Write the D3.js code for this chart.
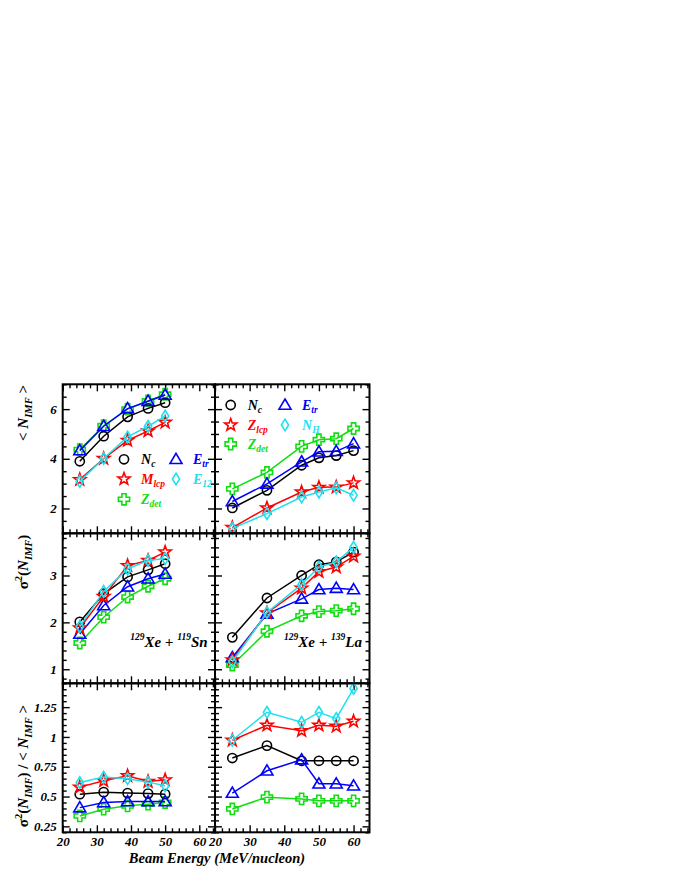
<!DOCTYPE html>
<html><head><meta charset="utf-8">
<script src="https://cdn.jsdelivr.net/npm/d3@7"></script>
<style>body{margin:0;background:#fff}svg{display:block}</style>
</head><body><svg id="c" width="680" height="880"></svg>
<script>
// ---------------- data ----------------
const energySn = [25, 32, 39, 45, 50];
const energyLa = [25, 35, 45, 50, 55, 60];

const meanSnNc   = [3.90, 4.91, 5.69, 6.03, 6.26];
const meanSnEtr  = [4.33, 5.31, 6.02, 6.32, 6.57];
const meanSnZdet = [4.37, 5.33, 6.00, 6.33, 6.60];
const meanSnMlcp = [3.16, 4.01, 4.74, 5.12, 5.47];
const meanSnE12  = [3.09, 4.01, 4.88, 5.31, 5.72];

const meanLaNc   = [2.02, 2.73, 3.74, 4.04, 4.13, 4.33];
const meanLaEtr  = [2.28, 2.99, 3.88, 4.28, 4.30, 4.61];
const meanLaZdet = [2.79, 3.45, 4.50, 4.77, 4.81, 5.22];
const meanLaZlcp = [1.23, 2.02, 2.66, 2.85, 2.86, 3.03];
const meanLaNH   = [1.20, 1.79, 2.46, 2.66, 2.83, 2.53];

const varSnNc   = [2.01, 2.61, 2.97, 3.12, 3.25];
const varSnEtr  = [1.75, 2.36, 2.76, 2.93, 3.03];
const varSnZdet = [1.56, 2.11, 2.54, 2.77, 2.93];
const varSnMlcp = [1.88, 2.55, 3.21, 3.32, 3.50];
const varSnE12  = [1.91, 2.66, 3.14, 3.32, 3.36];

const varLaNc   = [1.68, 2.52, 3.00, 3.23, 3.29, 3.50];
const varLaEtr  = [1.25, 2.18, 2.50, 2.70, 2.73, 2.70];
const varLaZdet = [1.09, 1.81, 2.14, 2.23, 2.25, 2.29];
const varLaZlcp = [1.20, 2.20, 2.73, 3.08, 3.18, 3.41];
const varLaNH   = [1.16, 2.21, 2.81, 3.18, 3.29, 3.60];

const ratioSnNc   = [0.520, 0.537, 0.529, 0.525, 0.520];
const ratioSnEtr  = [0.407, 0.450, 0.458, 0.458, 0.458];
const ratioSnZdet = [0.337, 0.394, 0.422, 0.436, 0.450];
const ratioSnMlcp = [0.579, 0.632, 0.674, 0.626, 0.640];
const ratioSnE12  = [0.618, 0.663, 0.649, 0.621, 0.590];

const ratioLaNc   = [0.823, 0.927, 0.800, 0.800, 0.800, 0.800];
const ratioLaEtr  = [0.529, 0.716, 0.809, 0.607, 0.607, 0.590];
const ratioLaZdet = [0.396, 0.495, 0.480, 0.464, 0.464, 0.464];
const ratioLaZlcp = [0.972, 1.098, 1.053, 1.098, 1.089, 1.131];
const ratioLaNH   = [0.972, 1.207, 1.123, 1.207, 1.154, 1.407];

const xTickLabels = [20, 30, 40, 50, 60];
const yTicksMean  = [2, 4, 6];
const yTicksVar   = [1, 2, 3];
const yTicksRatio = [0.25, 0.5, 0.75, 1, 1.25];

// ---------------- styles ----------------
const COL = {Nc:"#000000", Etr:"#0000ff", Zdet:"#11dd11", Lcp:"#ff0000", Fourth:"#1fe0f0"};
const MARK = {Nc:"circle", Etr:"triangle", Zdet:"cross", Lcp:"star", Fourth:"diamond"};
const FONT = "'Liberation Serif','Times New Roman',Times,serif";

function markerPath(t){
  if(t==="circle"){const p=d3.path();p.arc(0,0,4.6,0,2*Math.PI);p.closePath();return p.toString();}
  if(t==="triangle") return "M0,-6L6,4.2L-6,4.2Z";
  if(t==="diamond") return "M0,-5.8L3.6,0L0,5.8L-3.6,0Z";
  if(t==="cross"){const a=2.1,b=5.6;return `M${-a},${-b}H${a}V${-a}H${b}V${a}H${a}V${b}H${-a}V${a}H${-b}V${-a}H${-a}Z`;}
  if(t==="star"){const pts=[];for(let i=0;i<10;i++){const r=i%2?2.6:6.4;const ang=-Math.PI/2+i*Math.PI/5;pts.push([r*Math.cos(ang),r*Math.sin(ang)]);}return "M"+pts.map(p=>p[0].toFixed(2)+","+p[1].toFixed(2)).join("L")+"Z";}
}

const svg = d3.select("#c");
svg.append("rect").attr("width",680).attr("height",880).attr("fill","#fff");

const colX = [[62.7,215],[215,369.5]];
const rowY = [[384.3,533.3],[533.3,683.3],[683.3,832.3]];
const yDomains = [[1,7],[0.7,3.9],[0.2,1.45]];
const yMajors = [yTicksMean, yTicksVar, yTicksRatio];
const yMinorStep = [0.5, 0.2, 0.05];
const xDomain = [20, 64.6];

const panelSeries = [
  [
    {e:energySn, s:[["Zdet",meanSnZdet],["Nc",meanSnNc],["Etr",meanSnEtr],["Lcp",meanSnMlcp],["Fourth",meanSnE12]]},
    {e:energyLa, s:[["Zdet",meanLaZdet],["Nc",meanLaNc],["Etr",meanLaEtr],["Lcp",meanLaZlcp],["Fourth",meanLaNH]]}
  ],
  [
    {e:energySn, s:[["Zdet",varSnZdet],["Nc",varSnNc],["Etr",varSnEtr],["Lcp",varSnMlcp],["Fourth",varSnE12]]},
    {e:energyLa, s:[["Zdet",varLaZdet],["Nc",varLaNc],["Etr",varLaEtr],["Lcp",varLaZlcp],["Fourth",varLaNH]]}
  ],
  [
    {e:energySn, s:[["Zdet",ratioSnZdet],["Nc",ratioSnNc],["Etr",ratioSnEtr],["Lcp",ratioSnMlcp],["Fourth",ratioSnE12]]},
    {e:energyLa, s:[["Zdet",ratioLaZdet],["Nc",ratioLaNc],["Etr",ratioLaEtr],["Lcp",ratioLaZlcp],["Fourth",ratioLaNH]]}
  ]
];

function rangeStep(a,b,step){const out=[];const n=Math.round((b-a)/step);for(let i=0;i<=n;i++){out.push(+(a+i*step).toFixed(6));}return out;}
function isMajor(v,majors,step){return majors.some(m=>Math.abs(m-v)<step/10);}

const panels = [];
for(let r=0;r<3;r++){
  for(let c=0;c<2;c++){
    const [x0,x1]=colX[c], [y0,y1]=rowY[r];
    const x = d3.scaleLinear().domain(xDomain).range([x0,x1]);
    const y = d3.scaleLinear().domain(yDomains[r]).range([y1,y0]);
    panels.push({r,c,x,y,x0,x1,y0,y1});
    const g = svg.append("g");

    const xMinor = rangeStep(22,64,2).filter(v=>!isMajor(v,xTickLabels,2));
    const dm = yDomains[r];
    const yMinor = rangeStep(Math.ceil(dm[0]/yMinorStep[r]-1e-9)*yMinorStep[r], dm[1], yMinorStep[r])
      .filter(v=>v>=dm[0]&&v<=dm[1]&&!isMajor(v,yMajors[r],yMinorStep[r]));

    function addAxis(axis, transform){
      const a = g.append("g").attr("transform",transform).call(axis);
      a.select(".domain").remove();
      a.selectAll(".tick line").attr("stroke","#000").attr("stroke-width",1.4);
      a.selectAll("text").attr("font-family",FONT).attr("font-weight","bold").attr("font-style","italic")
        .attr("font-size",13).attr("fill","#000");
      return a;
    }
    addAxis(d3.axisBottom(x).tickValues(xTickLabels).tickSize(-7).tickPadding(4)
      .tickFormat(r===2? d=>d : ()=>""), `translate(0,${y1})`);
    addAxis(d3.axisBottom(x).tickValues(xMinor).tickSize(-4).tickFormat(()=>""), `translate(0,${y1})`);
    addAxis(d3.axisTop(x).tickValues(xTickLabels).tickSize(-7).tickFormat(()=>""), `translate(0,${y0})`);
    addAxis(d3.axisTop(x).tickValues(xMinor).tickSize(-4).tickFormat(()=>""), `translate(0,${y0})`);
    addAxis(d3.axisLeft(y).tickValues(yMajors[r]).tickSize(-7).tickPadding(6)
      .tickFormat(c===0? d=>String(d) : ()=>""), `translate(${x0},0)`);
    addAxis(d3.axisLeft(y).tickValues(yMinor).tickSize(-4).tickFormat(()=>""), `translate(${x0},0)`);
    addAxis(d3.axisRight(y).tickValues(yMajors[r]).tickSize(-7).tickFormat(()=>""), `translate(${x1},0)`);
    addAxis(d3.axisRight(y).tickValues(yMinor).tickSize(-4).tickFormat(()=>""), `translate(${x1},0)`);

    const ps = panelSeries[r][c];
    const line = d3.line().x((d,i)=>x(ps.e[i])).y(d=>y(d));
    ps.s.forEach(([key,vals])=>{
      g.append("path").attr("d",line(vals)).attr("fill","none").attr("stroke",COL[key]).attr("stroke-width",1.5);
      g.selectAll(null).data(vals).enter().append("path")
        .attr("d",markerPath(MARK[key]))
        .attr("transform",(d,i)=>`translate(${x(ps.e[i])},${y(d)})`)
        .attr("fill","none").attr("stroke",COL[key]).attr("stroke-width",1.6);
    });
    g.append("rect").attr("x",x0).attr("y",y0).attr("width",x1-x0).attr("height",y1-y0)
      .attr("fill","none").attr("stroke","#000").attr("stroke-width",2);
  }
}

// ---------------- legends ----------------
function legendItem(px,py,key,main,sub){
  svg.append("path").attr("d",markerPath(MARK[key])).attr("transform",`translate(${px},${py})`)
    .attr("fill","none").attr("stroke",COL[key]).attr("stroke-width",1.6);
  const t = svg.append("text").attr("x",px+17).attr("y",py+5).attr("font-family",FONT)
    .attr("font-style","italic").attr("font-weight","bold").attr("font-size",14).attr("fill",COL[key]);
  t.append("tspan").text(main);
  t.append("tspan").attr("font-size",9.5).attr("dy",3).text(sub);
}
{
  const p = panels[0];
  const lx = p.x0+61.3, rx = p.x0+113.3, ly = p.y0+75;
  legendItem(lx, ly, "Nc", "N", "c");
  legendItem(rx, ly, "Etr", "E", "tr");
  legendItem(lx, ly+19.7, "Lcp", "M", "lcp");
  legendItem(rx, ly+19.7, "Fourth", "E", "12");
  legendItem(lx, ly+40, "Zdet", "Z", "det");
}
{
  const p = panels[1];
  const lx = p.x0+15.7, rx = p.x0+70, ly = p.y0+20.7;
  legendItem(lx, ly, "Nc", "N", "c");
  legendItem(rx, ly, "Etr", "E", "tr");
  legendItem(lx, ly+20, "Lcp", "Z", "lcp");
  legendItem(rx, ly+20, "Fourth", "N", "H");
  legendItem(lx, ly+39, "Zdet", "Z", "det");
}

// ---------------- reaction labels ----------------
function reaction(px,py,a1,e1,a2,e2){
  const t = svg.append("text").attr("x",px).attr("y",py).attr("font-family",FONT)
    .attr("font-weight","bold").attr("font-style","italic").attr("font-size",15).attr("fill","#000");
  t.append("tspan").attr("font-size",9.5).attr("dy",-7).text(a1);
  t.append("tspan").attr("dy",7).text(e1+" + ");
  t.append("tspan").attr("font-size",9.5).attr("dy",-7).text(a2);
  t.append("tspan").attr("dy",7).text(e2);
}
reaction(panels[2].x0+67.5, 647, "129", "Xe", "119", "Sn");
reaction(panels[3].x0+69, 647, "129", "Xe", "139", "La");

// ---------------- axis titles ----------------
function yTitle(cy, parts){
  const t = svg.append("text").attr("transform",`translate(28,${cy}) rotate(-90)`)
    .attr("text-anchor","middle").attr("font-family",FONT).attr("font-weight","bold")
    .attr("font-size",15).attr("fill","#000");
  parts.forEach(([txt,kind,italic])=>{
    const s = t.append("tspan").text(txt);
    if(italic) s.attr("font-style","italic");
    if(kind==="sub") s.attr("font-size",10.5).attr("dy",3.5);
    if(kind==="back") s.attr("dy",-3.5);
    if(kind==="sup") s.attr("font-size",10.5).attr("dy",-6);
    if(kind==="supback") s.attr("dy",6);
  });
}
yTitle(413, [["< ",null,false],["N",null,true],["IMF","sub",true],[" >","back",false]]);
yTitle(562, [["σ",null,false],["2","sup",false],["(","supback",false],["N",null,true],["IMF","sub",true],[")","back",false]]);
yTitle(766, [["σ",null,false],["2","sup",false],["(","supback",false],["N",null,true],["IMF","sub",true],[") / < ","back",false],["N",null,true],["IMF","sub",true],[" >","back",false]]);

svg.append("text").attr("x",217).attr("y",863).attr("text-anchor","middle")
  .attr("font-family",FONT).attr("font-weight","bold").attr("font-style","italic")
  .attr("font-size",14.5).attr("fill","#000").text("Beam Energy (MeV/nucleon)");
</script></body></html>
